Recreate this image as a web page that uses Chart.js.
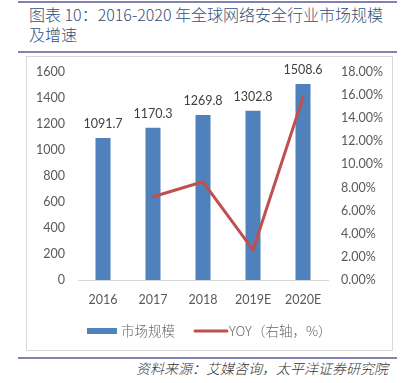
<!DOCTYPE html>
<html>
<head>
<meta charset="utf-8">
<script src="https://cdn.jsdelivr.net/npm/chart.js@4/dist/chart.umd.min.js"></script>
<style>
  html, body { margin:0; padding:0; background:#fff; }
  body { width:407px; height:383px; position:relative; overflow:hidden; }
  .rule { position:absolute; left:18px; width:379px; background:#8282b0; }
  #title { position:absolute; left:29px; top:4px; font:300 16px "Noto Sans CJK SC", sans-serif; line-height:20px; color:#33507a; white-space:nowrap; }
  #box { position:absolute; left:26px; top:56px; width:367px; height:295px; border:1px solid #d9d9d9; box-sizing:border-box; }
  #box canvas { position:absolute; left:0; top:0; }
  #source { position:absolute; right:19px; top:359px; font:italic 300 14px "Noto Sans CJK SC", sans-serif; line-height:18px; color:#333; white-space:nowrap; }
</style>
</head>
<body>
<div class="rule" style="top:1px;height:2px;"></div>
<div id="title">图表 10：2016-2020 年全球网络安全行业市场规模<br>及增速</div>
<div class="rule" style="top:51px;height:2px;"></div>
<div id="box"><canvas id="c" width="365" height="293"></canvas></div>
<div class="rule" style="top:357px;height:2px;"></div>
<div id="source">资料来源：艾媒咨询，太平洋证券研究院</div>
<script>
const categories = ['2016', '2017', '2018', '2019E', '2020E'];
const marketSize = [1091.7, 1170.3, 1269.8, 1302.8, 1508.6];
const yoy = [null, 7.2, 8.5, 2.6, 15.8];
const seriesNames = ['市场规模', 'YOY（右轴，%）'];

const tickFont = { family: 'Lato, "Liberation Sans", sans-serif', size: 12.5 };
const tickColor = '#595959';

const dataLabels = {
  id: 'dataLabels',
  afterDatasetsDraw(chart) {
    const ctx = chart.ctx;
    const meta = chart.getDatasetMeta(0);
    ctx.save();
    ctx.font = '12.5px Lato, "Liberation Sans", sans-serif';
    ctx.fillStyle = '#404040';
    ctx.textAlign = 'center';
    ctx.textBaseline = 'middle';
    meta.data.forEach((el, i) => {
      ctx.fillText(marketSize[i].toFixed(1), el.x, el.y - 14);
    });
    ctx.restore();
  }
};

const customLegend = {
  id: 'customLegend',
  afterDraw(chart) {
    const ctx = chart.ctx;
    const ds = chart.data.datasets;
    const y = 274;
    ctx.save();
    ctx.font = '300 13.5px "Noto Sans CJK SC", sans-serif';
    ctx.textBaseline = 'middle';
    ctx.textAlign = 'left';
    const w0 = ctx.measureText(ds[0].label).width;
    const w1 = ctx.measureText(ds[1].label).width;
    const total = 30 + 4 + w0 + 20 + 32 + 2 + w1;
    let x = Math.round(chart.width / 2 - total / 2);
    ctx.fillStyle = ds[0].backgroundColor;
    ctx.fillRect(x, y - 3, 30, 6);
    x += 34;
    ctx.fillStyle = '#666';
    ctx.fillText(ds[0].label, x, y);
    x += w0 + 20;
    ctx.strokeStyle = ds[1].borderColor;
    ctx.lineWidth = 3;
    ctx.lineCap = 'round';
    ctx.beginPath();
    ctx.moveTo(x, y);
    ctx.lineTo(x + 32, y);
    ctx.stroke();
    x += 34;
    ctx.fillStyle = '#666';
    ctx.fillText(ds[1].label, x, y);
    ctx.restore();
  }
};

function fitV(width) {
  return function (s) {
    s.width = width;
    s.paddingTop = 0;
    s.paddingBottom = 0;
  };
}

new Chart(document.getElementById('c'), {
  data: {
    labels: categories,
    datasets: [
      {
        type: 'bar',
        label: seriesNames[0],
        data: marketSize,
        backgroundColor: '#4f81bd',
        categoryPercentage: 1.0,
        barPercentage: 0.3,
        yAxisID: 'y',
        order: 2
      },
      {
        type: 'line',
        label: seriesNames[1],
        data: yoy,
        borderColor: '#c0504d',
        backgroundColor: '#c0504d',
        borderWidth: 3,
        pointRadius: 0,
        tension: 0,
        borderCapStyle: 'round',
        borderJoinStyle: 'round',
        yAxisID: 'y1',
        order: 1
      }
    ]
  },
  options: {
    responsive: false,
    animation: false,
    devicePixelRatio: 1,
    layout: { padding: { top: 15, left: 0, right: 0, bottom: 0 } },
    plugins: { legend: { display: false }, tooltip: { enabled: false } },
    scales: {
      x: {
        grid: { display: false, drawTicks: false },
        border: { display: true, color: '#d9d9d9', width: 1 },
        ticks: { font: tickFont, color: tickColor, padding: 12, maxRotation: 0 },
        afterFit(s) { s.height = 70; s.paddingLeft = 0; s.paddingRight = 0; }
      },
      y: {
        position: 'left',
        min: 0, max: 1600,
        grid: { display: false, drawTicks: false },
        border: { display: false },
        ticks: { stepSize: 200, font: tickFont, color: tickColor, padding: 13,
                 callback: v => String(v) },
        afterFit: fitV(51)
      },
      y1: {
        position: 'right',
        min: 0, max: 18,
        grid: { display: false, drawTicks: false },
        border: { display: false },
        ticks: { stepSize: 2, font: tickFont, color: tickColor, padding: 13,
                 callback: v => v.toFixed(2) + '%' },
        afterFit: fitV(64)
      }
    }
  },
  plugins: [dataLabels, customLegend]
});
</script>
</body>
</html>
